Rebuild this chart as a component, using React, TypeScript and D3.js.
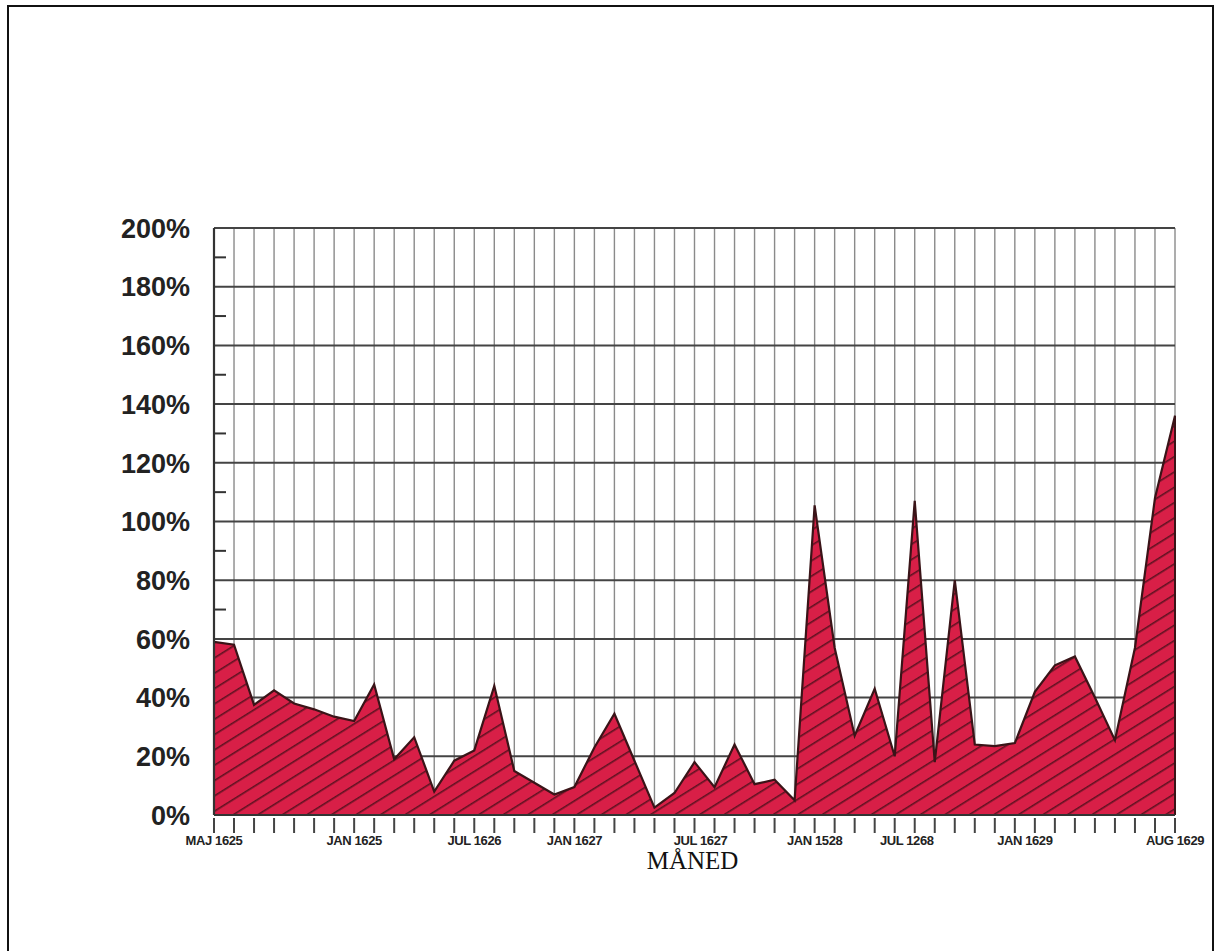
import React from "react";
import * as d3 from "d3";

// monthly share, May 1625 .. Aug 1629 (49 points, one per gridline)
const values = [
  59, 58, 37.5, 42.5, 38, 36, 33.5, 32, 44.5, 19,
  26.5, 8, 18.5, 22, 44, 15, 11, 7, 9.5, 23,
  34.5, 18.5, 2.5, 7.5, 18, 9.5, 24, 10.5, 12, 5,
  105.5, 57, 27, 43, 20, 107, 18, 80, 24, 23.5,
  24.5, 42, 51, 54, 40, 25.5, 57, 108, 136,
];

// category labels as printed on the original (typos kept)
const monthLabels = ["MAJ 1625", "JAN 1625", "JUL 1626", "JAN 1627", "JUL 1627", "JAN 1528", "JUL 1268", "JAN 1629", "AUG 1629"];
const monthLabelAt = [0, 7, 13, 18, 24.3, 30, 34.6, 40.5, 48];

const yTicks = [0, 20, 40, 60, 80, 100, 120, 140, 160, 180, 200];
const yMinor = [10, 30, 50, 70, 90, 110, 130, 150, 170, 190];

const W = 1222;
const H = 951;
const margin = { top: 228, right: 47, bottom: 136, left: 214 };

export default function App() {
  const innerW = W - margin.left - margin.right;
  const innerH = H - margin.top - margin.bottom;

  const x = d3.scaleLinear().domain([0, values.length - 1]).range([0, innerW]);
  const y = d3.scaleLinear().domain([0, 200]).range([innerH, 0]);

  const area = d3.area<number>()
    .x((_, i) => x(i))
    .y0(innerH)
    .y1((d) => y(d));

  const line = d3.line<number>()
    .x((_, i) => x(i))
    .y((d) => y(d));

  const idx = d3.range(values.length);

  return (
    <svg width={W} height={H} style={{ position: "absolute", left: 0, top: 0, background: "#fff" }}>
      <defs>
        <pattern id="hatch" width="13" height="13" patternUnits="userSpaceOnUse" patternTransform="rotate(-32)">
          <rect width="13" height="13" fill="#d81f47" />
          <line x1="0" y1="0.8" x2="13" y2="0.8" stroke="#4a0f1a" strokeWidth="1.6" strokeOpacity="0.85" />
        </pattern>
      </defs>

      {/* page frame */}
      <rect x={8} y={6} width={1205} height={960} fill="none" stroke="#111" strokeWidth={2} />

      <g transform={`translate(${margin.left},${margin.top})`}>
        {/* vertical grid */}
        {idx.map((i) => (
          <line key={`v${i}`} x1={x(i)} x2={x(i)} y1={0} y2={innerH} stroke="#8a8a8a" strokeWidth={1.4} />
        ))}
        {/* horizontal grid */}
        {yTicks.map((t) => (
          <line key={`h${t}`} x1={0} x2={innerW} y1={y(t)} y2={y(t)} stroke="#444" strokeWidth={2} />
        ))}
        {/* minor ticks on left axis */}
        {yMinor.map((t) => (
          <line key={`m${t}`} x1={0} x2={12} y1={y(t)} y2={y(t)} stroke="#333" strokeWidth={2} />
        ))}

        <path d={area(values) ?? ""} fill="url(#hatch)" />
        <path d={line(values) ?? ""} fill="none" stroke="#3a1418" strokeWidth={2.2} strokeLinejoin="miter" />

        {/* frame of plot */}
        <line x1={0} x2={0} y1={0} y2={innerH} stroke="#333" strokeWidth={2.2} />
        <line x1={innerW} x2={innerW} y1={y(values[values.length - 1])} y2={innerH} stroke="#3a1418" strokeWidth={2} />
        <line x1={0} x2={innerW} y1={innerH} y2={innerH} stroke="#333" strokeWidth={2.2} />

        {/* bottom ticks */}
        {idx.map((i) => (
          <line key={`t${i}`} x1={x(i)} x2={x(i)} y1={innerH + 3} y2={innerH + 18} stroke="#444" strokeWidth={2} />
        ))}

        {/* y labels */}
        {yTicks.map((t) => (
          <text key={`yl${t}`} x={-24} y={y(t)} dy="0.36em" textAnchor="end"
            fontFamily="Liberation Sans, Arial, sans-serif" fontWeight="bold" fontSize={27} fill="#222">
            {t}%
          </text>
        ))}

        {/* x labels */}
        {monthLabels.map((m, k) => (
          <text key={`xl${k}`} x={x(monthLabelAt[k])} y={innerH + 30} textAnchor="middle"
            fontFamily="Liberation Sans, Arial, sans-serif" fontWeight="bold" fontSize={13} fill="#222"
            letterSpacing={-0.4}>
            {m}
          </text>
        ))}

        <text x={x(23.9)} y={innerH + 54} textAnchor="middle"
          fontFamily="Liberation Serif, Times New Roman, serif" fontSize={25} fill="#111">
          MÅNED
        </text>
      </g>
    </svg>
  );
}
